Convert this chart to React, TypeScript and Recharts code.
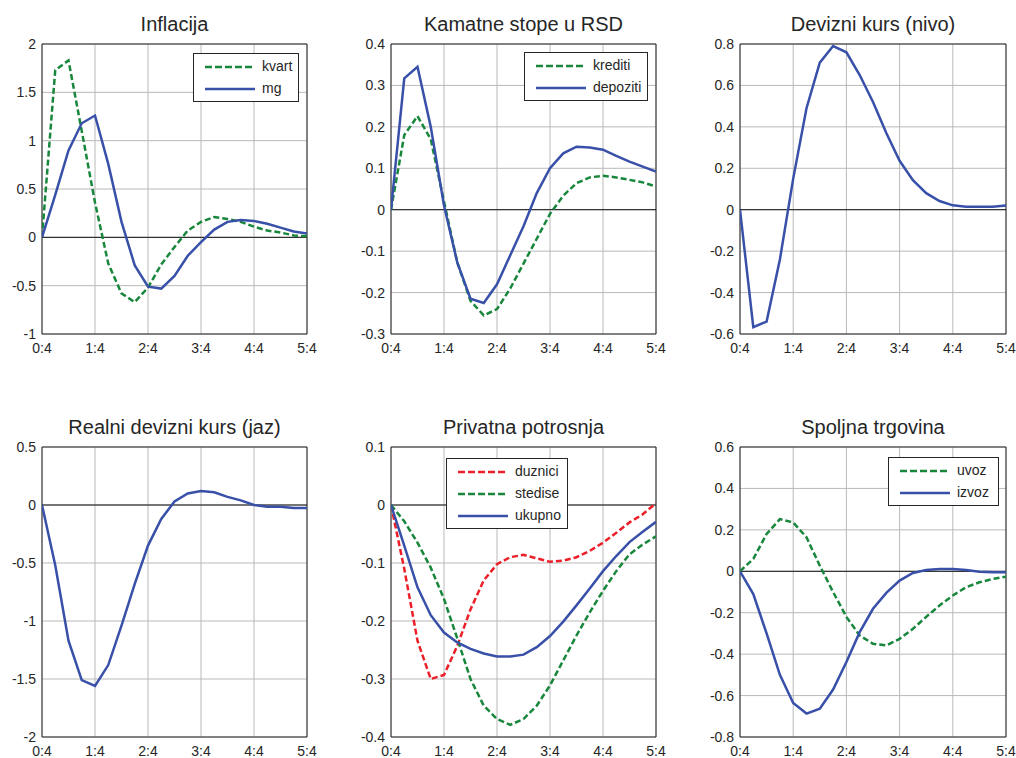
import {
  LineChart,
  Line,
  XAxis,
  YAxis,
  CartesianGrid,
  ReferenceLine,
  ReferenceArea,
} from "recharts";

const FONT = '"Liberation Sans", Arial, Helvetica, sans-serif';
const TEXT = "#262626";
const BLUE = "#3850a8";
const GREEN = "#18873c";
const RED = "#ec1f28";

// quarters after the shock
const QUARTERS = [0, 1, 2, 3, 4, 5, 6, 7, 8, 9, 10, 11, 12, 13, 14, 15, 16, 17, 18, 19, 20];
const X_TICKS = [0, 4, 8, 12, 16, 20];
const X_TICK_LABELS = ["0:4", "1:4", "2:4", "3:4", "4:4", "5:4"];

// Inflacija
const inflKvart = [0, 1.73, 1.83, 1.1, 0.36, -0.27, -0.58, -0.67, -0.52, -0.28, -0.1, 0.07, 0.16, 0.21, 0.19, 0.16, 0.11, 0.07, 0.05, 0.02, 0.01];
const inflMg = [0, 0.44, 0.9, 1.18, 1.26, 0.76, 0.16, -0.29, -0.51, -0.53, -0.4, -0.19, -0.05, 0.08, 0.16, 0.18, 0.17, 0.14, 0.1, 0.06, 0.04];

// Kamatne stope u RSD
const kamKrediti = [0, 0.18, 0.226, 0.17, 0.02, -0.127, -0.22, -0.255, -0.24, -0.19, -0.13, -0.07, -0.01, 0.034, 0.064, 0.078, 0.082, 0.078, 0.072, 0.066, 0.056];
const kamDepoziti = [0, 0.317, 0.345, 0.2, 0.01, -0.127, -0.215, -0.225, -0.18, -0.11, -0.04, 0.04, 0.1, 0.136, 0.152, 0.15, 0.145, 0.13, 0.116, 0.104, 0.092];

// Devizni kurs (nivo)
const kursNivo = [0, -0.567, -0.54, -0.24, 0.15, 0.49, 0.71, 0.79, 0.76, 0.65, 0.52, 0.37, 0.236, 0.143, 0.08, 0.042, 0.021, 0.014, 0.014, 0.014, 0.02];

// Realni devizni kurs (jaz)
const realniJaz = [0, -0.52, -1.17, -1.51, -1.56, -1.38, -1.04, -0.68, -0.35, -0.12, 0.03, 0.1, 0.12, 0.11, 0.07, 0.04, 0, -0.015, -0.015, -0.025, -0.025];

// Privatna potrosnja
const potrDuznici = [0, -0.11, -0.234, -0.3, -0.293, -0.243, -0.18, -0.13, -0.102, -0.09, -0.086, -0.092, -0.098, -0.096, -0.09, -0.079, -0.065, -0.048, -0.03, -0.016, 0.003];
const potrStedise = [0, -0.028, -0.065, -0.108, -0.162, -0.23, -0.3, -0.346, -0.369, -0.379, -0.369, -0.346, -0.311, -0.268, -0.225, -0.185, -0.148, -0.114, -0.085, -0.068, -0.054];
const potrUkupno = [0, -0.07, -0.142, -0.19, -0.22, -0.237, -0.248, -0.256, -0.261, -0.261, -0.258, -0.245, -0.226, -0.201, -0.173, -0.144, -0.114, -0.088, -0.064, -0.046, -0.029];

// Spoljna trgovina
const trgUvoz = [0, 0.06, 0.18, 0.252, 0.236, 0.164, 0.027, -0.1, -0.22, -0.31, -0.35, -0.358, -0.326, -0.278, -0.22, -0.165, -0.117, -0.077, -0.053, -0.037, -0.026];
const trgIzvoz = [0, -0.11, -0.3, -0.5, -0.636, -0.687, -0.663, -0.571, -0.438, -0.294, -0.181, -0.104, -0.045, -0.008, 0.006, 0.011, 0.011, 0.006, -0.002, -0.005, -0.005];

type Series = { key: string; name: string; values: number[]; color: string; dashed?: boolean };
type Panel = {
  title: string;
  left: number; // plot area left
  top: number; // plot area top
  plotW: number;
  domain: [number, number];
  ticks: number[];
  series: Series[];
  legend?: { left: number; top: number; width: number };
};

const PLOT_H = 290;
const Y_AXIS_W = 42;

const PANELS: Panel[] = [
  {
    title: "Inflacija",
    left: 42, top: 44, plotW: 265,
    domain: [-1, 2],
    ticks: [-1, -0.5, 0, 0.5, 1, 1.5, 2],
    series: [
      { key: "kvart", name: "kvart", values: inflKvart, color: GREEN, dashed: true },
      { key: "mg", name: "mg", values: inflMg, color: BLUE },
    ],
    legend: { left: 151, top: 9, width: 106 },
  },
  {
    title: "Kamatne stope u RSD",
    left: 391, top: 44, plotW: 265,
    domain: [-0.3, 0.4],
    ticks: [-0.3, -0.2, -0.1, 0, 0.1, 0.2, 0.3, 0.4],
    series: [
      { key: "krediti", name: "krediti", values: kamKrediti, color: GREEN, dashed: true },
      { key: "depoziti", name: "depoziti", values: kamDepoziti, color: BLUE },
    ],
    legend: { left: 133, top: 8, width: 124 },
  },
  {
    title: "Devizni kurs (nivo)",
    left: 740, top: 44, plotW: 266,
    domain: [-0.6, 0.8],
    ticks: [-0.6, -0.4, -0.2, 0, 0.2, 0.4, 0.6, 0.8],
    series: [{ key: "nivo", name: "nivo", values: kursNivo, color: BLUE }],
  },
  {
    title: "Realni devizni kurs (jaz)",
    left: 42, top: 447, plotW: 265,
    domain: [-2, 0.5],
    ticks: [-2, -1.5, -1, -0.5, 0, 0.5],
    series: [{ key: "jaz", name: "jaz", values: realniJaz, color: BLUE }],
  },
  {
    title: "Privatna potrosnja",
    left: 391, top: 447, plotW: 265,
    domain: [-0.4, 0.1],
    ticks: [-0.4, -0.3, -0.2, -0.1, 0, 0.1],
    series: [
      { key: "duznici", name: "duznici", values: potrDuznici, color: RED, dashed: true },
      { key: "stedise", name: "stedise", values: potrStedise, color: GREEN, dashed: true },
      { key: "ukupno", name: "ukupno", values: potrUkupno, color: BLUE },
    ],
    legend: { left: 55, top: 11, width: 122 },
  },
  {
    title: "Spoljna trgovina",
    left: 740, top: 447, plotW: 266,
    domain: [-0.8, 0.6],
    ticks: [-0.8, -0.6, -0.4, -0.2, 0, 0.2, 0.4, 0.6],
    series: [
      { key: "uvoz", name: "uvoz", values: trgUvoz, color: GREEN, dashed: true },
      { key: "izvoz", name: "izvoz", values: trgIzvoz, color: BLUE },
    ],
    legend: { left: 148, top: 10, width: 111 },
  },
];

const tickStyle = { fontSize: 14, fill: TEXT, fontFamily: FONT };

function LegendBox({ series, pos }: { series: Series[]; pos: { left: number; top: number; width: number } }) {
  return (
    <div
      style={{
        position: "absolute",
        left: pos.left,
        top: pos.top,
        width: pos.width,
        height: series.length * 22 + 5,
        boxSizing: "border-box",
        border: "1px solid #262626",
        background: "#fff",
        paddingTop: 2,
        fontFamily: FONT,
        fontSize: 14,
        color: TEXT,
      }}
    >
      {series.map((s) => (
        <div key={s.key} style={{ position: "relative", height: 22 }}>
          <svg width={52} height={22} style={{ position: "absolute", left: 10, top: 0 }}>
            <line
              x1={1}
              x2={51}
              y1={11}
              y2={11}
              stroke={s.color}
              strokeWidth={2.5}
              strokeDasharray={s.dashed ? "7 3" : undefined}
            />
          </svg>
          <span style={{ position: "absolute", left: 68, top: 2, lineHeight: "16px" }}>{s.name}</span>
        </div>
      ))}
    </div>
  );
}

function Subplot({ panel }: { panel: Panel }) {
  const data = QUARTERS.map((q, i) => {
    const row: Record<string, number> = { q };
    panel.series.forEach((s) => {
      row[s.key] = s.values[i];
    });
    return row;
  });
  const chartW = 340;
  const marginRight = chartW - Y_AXIS_W - panel.plotW;

  return (
    <div
      style={{
        position: "absolute",
        left: panel.left - Y_AXIS_W,
        top: panel.top - 44,
        width: chartW,
        height: 44 + PLOT_H + 26,
      }}
    >
      {/* naslov */}
      <div
        style={{
          position: "absolute",
          left: Y_AXIS_W - 20,
          top: 14,
          width: panel.plotW + 40,
          textAlign: "center",
          fontFamily: FONT,
          fontSize: 20,
          lineHeight: "20px",
          color: TEXT,
          whiteSpace: "nowrap",
        }}
      >
        {panel.title}
      </div>
      <LineChart
        width={chartW}
        height={44 + PLOT_H + 26}
        data={data}
        margin={{ top: 44, right: marginRight, bottom: 0, left: 0 }}
      >
        <CartesianGrid stroke="#b9b9b9" strokeWidth={1} />
        <XAxis
          dataKey="q"
          type="number"
          domain={[0, 20]}
          ticks={X_TICKS}
          tickFormatter={(v: number) => X_TICK_LABELS[X_TICKS.indexOf(v)] ?? ""}
          tick={tickStyle}
          tickLine={false}
          axisLine={false}
          tickSize={4}
          tickMargin={5}
          height={26}
          interval={0}
          allowDataOverflow
        />
        <YAxis
          type="number"
          domain={panel.domain}
          ticks={panel.ticks}
          tick={tickStyle}
          tickLine={false}
          axisLine={false}
          tickSize={4}
          tickMargin={2}
          width={Y_AXIS_W}
          interval={0}
          allowDataOverflow
        />
        <ReferenceLine y={0} stroke="#111" strokeWidth={1} />
        {panel.series.map((s) => (
          <Line
            key={s.key}
            type="linear"
            dataKey={s.key}
            name={s.name}
            stroke={s.color}
            strokeWidth={2.5}
            strokeDasharray={s.dashed ? "6 3" : undefined}
            dot={false}
            activeDot={false}
            isAnimationActive={false}
          />
        ))}
        <ReferenceArea
          x1={0}
          x2={20}
          y1={panel.domain[0]}
          y2={panel.domain[1]}
          fill="none"
          fillOpacity={0}
          stroke="#262626"
          strokeWidth={1}
        />
      </LineChart>
      {panel.legend && (
        <div style={{ position: "absolute", left: Y_AXIS_W, top: 44 }}>
          <LegendBox series={panel.series} pos={panel.legend} />
        </div>
      )}
    </div>
  );
}

export default function App() {
  return (
    <div
      style={{
        position: "absolute",
        left: 0,
        top: 0,
        width: 1016,
        height: 758,
        background: "#fff",
        overflow: "hidden",
      }}
    >
      {PANELS.map((p) => (
        <Subplot key={p.title} panel={p} />
      ))}
    </div>
  );
}
